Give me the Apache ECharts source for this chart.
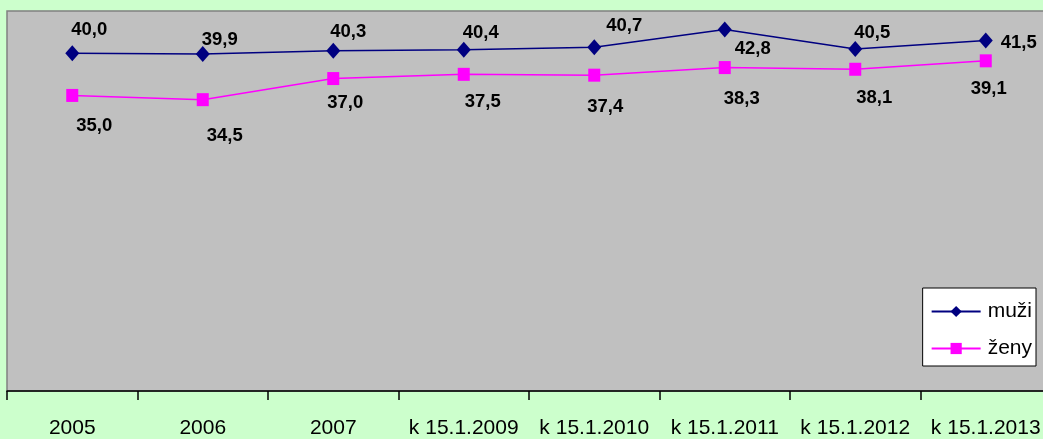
<!DOCTYPE html>
<html><head><meta charset="utf-8">
<script src="https://cdn.jsdelivr.net/npm/echarts@6/dist/echarts.min.js"></script>
<style>html,body{margin:0;padding:0;background:#CCFFCC;overflow:hidden;width:1043px;height:439px;}#c{width:1051px;height:439px;}</style>
</head><body><div id="c"></div>
<script>
const categories = ['2005','2006','2007','k 15.1.2009','k 15.1.2010','k 15.1.2011','k 15.1.2012','k 15.1.2013'];
const muzi = [40.0, 39.9, 40.3, 40.4, 40.7, 42.8, 40.5, 41.5];
const zeny = [35.0, 34.5, 37.0, 37.5, 37.4, 38.3, 38.1, 39.1];
// label offsets (style only)
const muziLabelOffsets = [[17,-23],[17,-14],[15,-19],[17,-17],[30,-21],[28,19],[17,-16],[33,2]];
const zenyLabelOffsets = [[22,30],[22,36],[12,24],[19,28],[11,32],[17,31],[19,29],[3,28]];

function items(vals, offs){
  return vals.map((v,i)=>({value:v, label:{offset:offs[i]}}));
}
const chart = echarts.init(document.getElementById('c'));
const labelStyle = {show:true, position:'inside', fontFamily:'Liberation Sans, Arial', fontWeight:'bold', fontSize:18.5, color:'#000',
  formatter: p => p.value.toFixed(1).replace('.', ',')};
chart.setOption({
  backgroundColor:'#CCFFCC',
  animation:false,
  grid:{left:7, top:11, right:0, bottom:45, show:true, backgroundColor:'#C0C0C0', borderColor:'#808080', borderWidth:1.5},
  xAxis:{type:'category', data:categories, boundaryGap:true,
    axisLine:{lineStyle:{color:'#000', width:1.5}},
    axisTick:{show:true, interval:0, length:9, lineStyle:{color:'#000', width:1.5}},
    axisLabel:{interval:0, fontFamily:'Liberation Sans, Arial', fontSize:21, color:'#000', margin:27}},
  yAxis:{type:'value', min:0, max:45, show:false, splitLine:{show:false}},
  legend:{orient:'vertical', right:15, top:288, backgroundColor:'#fff', borderColor:'#000', borderWidth:1,
    padding:[13,4,7,8], itemGap:16, itemWidth:49, itemHeight:14,
    textStyle:{fontFamily:'Liberation Sans, Arial', fontSize:21, color:'#000', padding:[0,0,0,2]},
    data:['muži','ženy']},
  series:[
    {name:'muži', type:'line', data:items(muzi, muziLabelOffsets), symbol:'diamond', symbolSize:[14,16],
      itemStyle:{color:'#000080'}, lineStyle:{color:'#000080', width:1.5}, label:labelStyle},
    {name:'ženy', type:'line', data:items(zeny, zenyLabelOffsets), symbol:'rect', symbolSize:[12,13],
      itemStyle:{color:'#FF00FF'}, lineStyle:{color:'#FF00FF', width:1.5}, label:labelStyle}
  ]
});
</script></body></html>
